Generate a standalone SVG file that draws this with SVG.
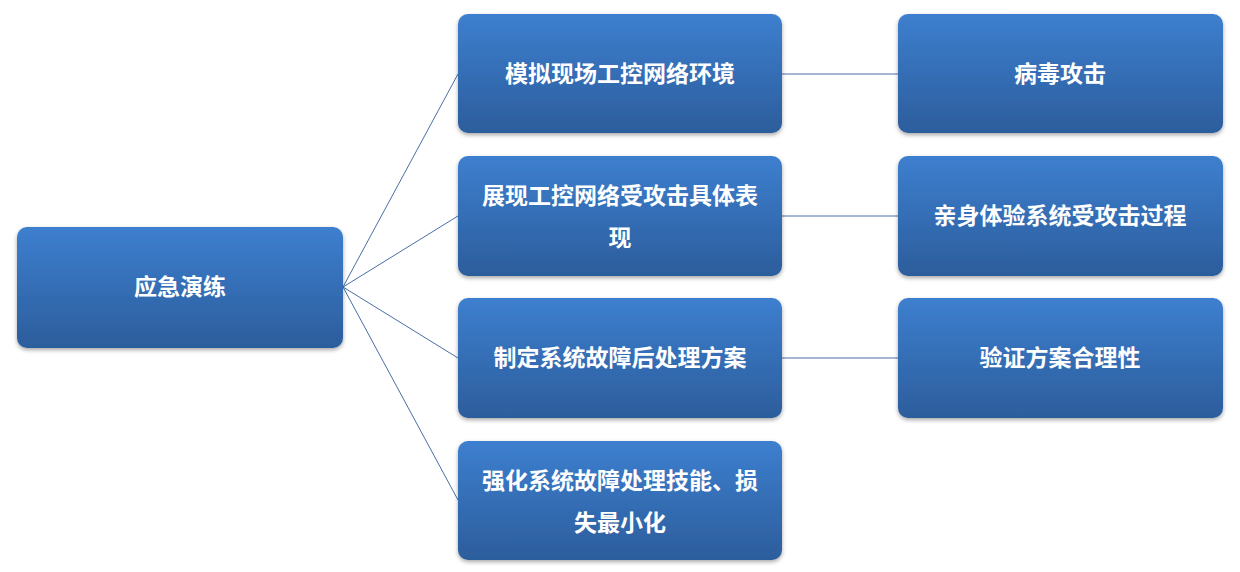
<svg xmlns="http://www.w3.org/2000/svg" width="1240" height="572" viewBox="0 0 1240 572">
<defs>
<linearGradient id="g" x1="0" y1="0" x2="0" y2="1"><stop offset="0" stop-color="#3d7fcf"/><stop offset="1" stop-color="#2c5d9c"/></linearGradient>
<filter id="s" x="-5%" y="-5%" width="110%" height="115%"><feDropShadow dx="0" dy="2" stdDeviation="2" flood-color="#000" flood-opacity="0.35"/></filter>
</defs>
<style>
.b{fill:url(#g);filter:url(#s)}
.t{font-family:"Noto Sans CJK SC",sans-serif;font-weight:bold;font-size:23px;fill:#fff;text-anchor:middle}
.c{stroke:#4a6fa8;stroke-width:1;fill:none}
</style>
<rect width="1240" height="572" fill="#fff"/>
<g id="connectors">
<path class="c" d="M343 287L458 74M343 287L458 216M343 287L458 358M343 287L458 500M782 74H898M782 216H898M782 358H898"/>
</g>
<g id="root"><rect class="b" x="17" y="227" width="326" height="121" rx="10"/><text class="t" x="180" y="295">应急演练</text></g>
<g id="m1"><rect class="b" x="458" y="14" width="324" height="119" rx="10"/><text class="t" x="620" y="82">模拟现场工控网络环境</text></g>
<g id="m2"><rect class="b" x="458" y="156" width="324" height="120" rx="10"/><text class="t" x="620" y="204">展现工控网络受攻击具体表</text><text class="t" x="620" y="246">现</text></g>
<g id="m3"><rect class="b" x="458" y="298" width="324" height="120" rx="10"/><text class="t" x="620" y="366">制定系统故障后处理方案</text></g>
<g id="m4"><rect class="b" x="458" y="441" width="324" height="119" rx="10"/><text class="t" x="620" y="489">强化系统故障处理技能、损</text><text class="t" x="620" y="531">失最小化</text></g>
<g id="r1"><rect class="b" x="898" y="14" width="325" height="119" rx="10"/><text class="t" x="1060" y="82">病毒攻击</text></g>
<g id="r2"><rect class="b" x="898" y="156" width="325" height="120" rx="10"/><text class="t" x="1060" y="224">亲身体验系统受攻击过程</text></g>
<g id="r3"><rect class="b" x="898" y="298" width="325" height="120" rx="10"/><text class="t" x="1060" y="366">验证方案合理性</text></g>
</svg>
